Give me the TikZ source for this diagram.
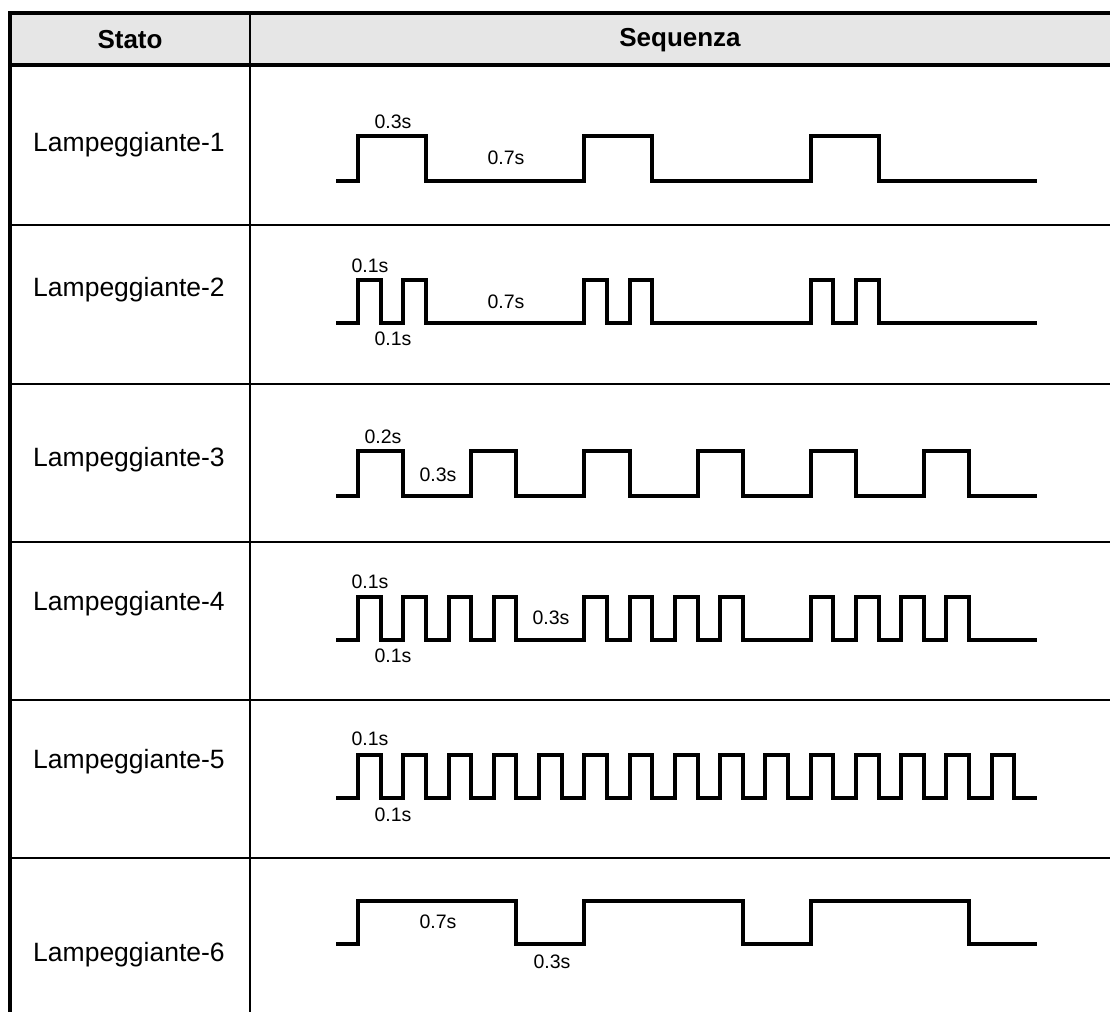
\documentclass[tikz,border=0pt]{standalone}
\usepackage{fontspec}
\setmainfont{Liberation Sans}
\definecolor{hdr}{HTML}{E6E6E6}
\newcommand{\tx}[1]{{358+226.33*(#1)}}
\begin{document}
\begin{tikzpicture}[x=1pt,y=-1pt,
  sig/.style={line width=4pt,line join=miter},
  grid/.style={line width=2.5pt},
  frame/.style={line width=3.5pt},
  statelbl/.style={inner sep=0pt,font=\fontsize{26.5}{30}\selectfont},
  headlbl/.style={inner sep=0pt,font=\fontsize{26}{30}\selectfont\bfseries},
  tlbl/.style={inner sep=0pt,font=\fontsize{19.5}{23}\selectfont}]
\useasboundingbox (0,0) rectangle (1110,1012);
% header
\fill[hdr] (10,13) rectangle (1110,65);
\node[headlbl] (hs) at (130,40) {Stato};
\node[headlbl] (hq) at (680,40) {Sequenza};
% grid
\draw[frame] (10,13) -- (1110,13);
\draw[frame] (10,65) -- (1110,65);
\draw[frame] (10,11.25) -- (10,1012);
\draw[grid] (250,13) -- (250,1012);
\foreach \y in {225,384,542,700,858} \draw[grid] (10,\y) -- (1110,\y);
% state names
\node[statelbl] (r1) at (129,145) {Lampeggiante-1};
\node[statelbl] (r2) at (129,290) {Lampeggiante-2};
\node[statelbl] (r3) at (129,460) {Lampeggiante-3};
\node[statelbl] (r4) at (129,604) {Lampeggiante-4};
\node[statelbl] (r5) at (129,762) {Lampeggiante-5};
\node[statelbl] (r6) at (129,955) {Lampeggiante-6};
% row 1
\draw[sig] (336,181) \foreach \k in {0,1,2}{ -| (\tx{\k},136) -| (\tx{\k+0.3},181) } -- (1037,181);
\node[tlbl] (a1) at (393,122) {0.3s};
\node[tlbl] (b1) at (506,158) {0.7s};
% row 2
\draw[sig] (336,323) \foreach \k in {0,1,2}{ \foreach \o in {0,0.2}{ -| (\tx{\k+\o},280) -| (\tx{\k+\o+0.1},323) } } -- (1037,323);
\node[tlbl] (a2) at (370,266) {0.1s};
\node[tlbl] (b2) at (506,302) {0.7s};
\node[tlbl] (c2) at (393,339) {0.1s};
% row 3
\draw[sig] (336,496) \foreach \k in {0,...,5}{ -| (\tx{0.5*\k},451) -| (\tx{0.5*\k+0.2},496) } -- (1037,496);
\node[tlbl] (a3) at (383,437) {0.2s};
\node[tlbl] (b3) at (438,475) {0.3s};
% row 4
\draw[sig] (336,640) \foreach \k in {0,1,2}{ \foreach \o in {0,0.2,0.4,0.6}{ -| (\tx{\k+\o},597) -| (\tx{\k+\o+0.1},640) } } -- (1037,640);
\node[tlbl] (a4) at (370,582) {0.1s};
\node[tlbl] (b4) at (551,618) {0.3s};
\node[tlbl] (c4) at (393,656) {0.1s};
% row 5
\draw[sig] (336,798) \foreach \k in {0,...,14}{ -| (\tx{0.2*\k},755) -| (\tx{0.2*\k+0.1},798) } -- (1037,798);
\node[tlbl] (a5) at (370,739) {0.1s};
\node[tlbl] (c5) at (393,815) {0.1s};
% row 6
\draw[sig] (336,944) \foreach \k in {0,1,2}{ -| (\tx{\k},901) -| (\tx{\k+0.7},944) } -- (1037,944);
\node[tlbl] (b6) at (438,922) {0.7s};
\node[tlbl] (c6) at (552,962) {0.3s};
\end{tikzpicture}
\end{document}
